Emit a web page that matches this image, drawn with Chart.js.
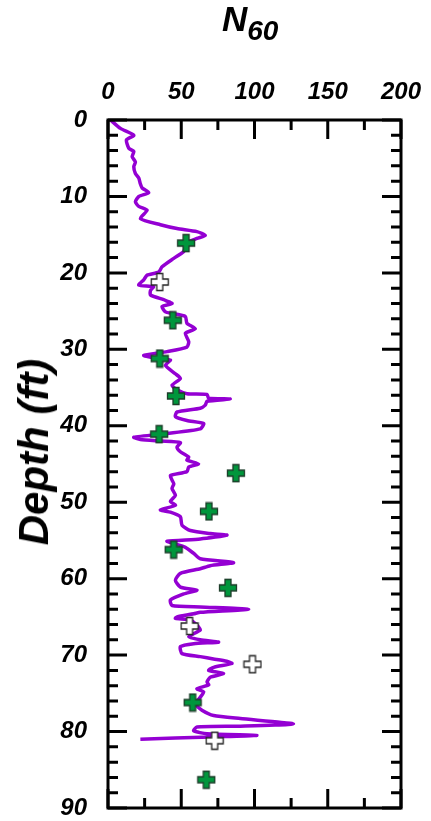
<!DOCTYPE html>
<html>
<head>
<meta charset="utf-8">
<script src="https://cdn.jsdelivr.net/npm/chart.js@4.4.0/dist/chart.umd.min.js"></script>
<style>
  html, body { margin: 0; padding: 0; background: #fff; }
  #wrap { position: relative; width: 431px; height: 821px; }
  #title {
    position: absolute; left: 222px; top: -1px;
    font-family: "Liberation Sans", Arial, sans-serif;
    font-weight: bold; font-style: italic; font-size: 35px; color: #000;
  }
  #title sub { font-size: 28px; vertical-align: -9px; }
  #ytitle {
    position: absolute; left: 34px; top: 452px;
    transform: translate(-50%, -50%) rotate(-90deg);
    white-space: nowrap;
    font-family: "Liberation Sans", Arial, sans-serif;
    font-weight: bold; font-style: italic; font-size: 42px; color: #000;
  }
</style>
</head>
<body>
<div id="wrap">
  <canvas id="chart" width="431" height="821"></canvas>
  <div id="title">N<sub>60</sub></div>
  <div id="ytitle">Depth (ft)</div>
</div>
<script>
// CPT-derived N60 profile
const cptDepth = [0.0, 1.1, 2.0, 2.6, 3.7, 4.1, 4.8, 5.5, 6.1, 7.0, 7.6, 8.3, 8.9, 9.5, 10.0, 10.7, 11.3, 11.8, 12.9, 13.7,
  14.2, 14.6, 15.1, 15.5, 16.1, 17.2, 18.1, 19.2, 19.9, 20.3, 20.9, 21.6, 21.8, 22.3, 22.9, 23.5, 23.7, 24.0, 24.4, 25.1,
  25.3, 25.7, 26.6, 27.3, 27.9, 29.0, 29.7, 30.3, 30.8, 31.2, 31.4, 32.1, 33.2, 33.8, 34.7, 35.3, 35.8, 35.9, 36.4, 36.5,
  36.8, 37.3, 37.7, 38.2, 38.8, 39.3, 39.7, 40.4, 41.0, 41.5, 41.8, 42.0, 42.2, 42.8, 43.4, 44.1, 44.5, 45.0, 45.4, 46.0,
  46.5, 47.1, 47.6, 48.2, 49.1, 49.9, 50.4, 51.0, 51.3, 51.9, 53.0, 53.7, 54.1, 54.3, 54.8, 55.1, 55.4, 55.9, 56.7, 57.4,
  57.9, 58.3, 58.7, 59.3, 60.2, 61.1, 61.5, 62.0, 62.8, 63.5, 63.7, 64.0, 64.4, 64.6, 65.0, 65.2, 65.4, 66.1, 66.7, 67.6,
  68.0, 68.3, 68.5, 68.9, 69.8, 70.2, 70.5, 70.8, 71.1, 71.6, 72.0, 72.4, 72.9, 73.5, 73.9, 74.4, 74.8, 75.5, 76.4, 77.2,
  77.9, 78.3, 79.0, 79.3, 79.4, 79.9, 80.3, 80.5, 80.7, 81.0];
const cptN60 = [1.7, 8.5, 17.6, 12.6, 14.2, 17.6, 16.5, 18.7, 17.6, 18.7, 21, 22, 23.3, 27.8, 21, 18.7, 21, 26.7, 22.1, 35.8,
  47.1, 60.7, 66.4, 60.7, 53.9, 51.7, 44.9, 36.9, 34.6, 26.7, 24.4, 21, 31, 29, 29, 38, 40.3, 43.7, 36.9, 39.2,
  43.7, 52.8, 53.9, 59.6, 52.8, 55.1, 53.9, 40.3, 24.4, 34.6, 42.6, 39.2, 46, 49.4, 43.7, 47.1, 53.9, 67.6, 68.7, 83.4,
  67.6, 66.4, 63, 47.1, 46, 53.9, 65.3, 63, 40.3, 17.6, 22.1, 35.8, 49.4, 47.1, 49.4, 55.1, 53.9, 61.8, 55.1, 53.9,
  42.6, 43.7, 44.9, 43.7, 46, 42.6, 46, 35.8, 42.6, 49.4, 50.5, 56.2, 69.8, 81.2, 63, 40.3, 44.9, 52.8, 58.5, 63,
  85.7, 69.8, 63, 49.4, 46, 49.4, 60.7, 51.7, 42.6, 43.7, 63, 96, 63, 58.5, 47.1, 46, 56.2, 60.7, 63, 55.1,
  63, 75.5, 58.5, 49.4, 50.5, 63, 72, 81, 84.6, 72.1, 68.7, 78.9, 69.8, 67.6, 68.7, 60.7, 65.3, 63, 59.6, 64.1,
  72.1, 90.3, 126.6, 90.3, 60.7, 58.5, 67.6, 101.6, 69.8, 22.1];

// SPT N60 (green and white markers)
const sptGreenDepth = [16.1, 26.2, 31.2, 36.1, 41.1, 46.2, 51.2, 56.2, 61.2, 76.2, 86.3];
const sptGreenN60 = [53.3, 44.2, 35.3, 46.4, 34.9, 87.3, 68.9, 44.8, 81.9, 57.8, 67.1];
const sptWhiteDepth = [21.2, 66.2, 71.2, 81.2];
const sptWhiteN60 = [35.3, 55.7, 98.6, 72.8];

// axis ticks
const xTicks = [0, 50, 100, 150, 200];
const xMinorStep = 25;
const yTicks = [0, 10, 20, 30, 40, 50, 60, 70, 80, 90];
const yMinorStep = 2;

const FONT = '"Liberation Sans", Arial, sans-serif';

function plusIcon(fill, stroke) {
  const c = document.createElement('canvas');
  c.width = 20; c.height = 20;
  const g = c.getContext('2d');
  const m = 10, a = 8.5, w = 3;
  g.beginPath();
  g.moveTo(m - w, m - a); g.lineTo(m + w, m - a); g.lineTo(m + w, m - w);
  g.lineTo(m + a, m - w); g.lineTo(m + a, m + w); g.lineTo(m + w, m + w);
  g.lineTo(m + w, m + a); g.lineTo(m - w, m + a); g.lineTo(m - w, m + w);
  g.lineTo(m - a, m + w); g.lineTo(m - a, m - w); g.lineTo(m - w, m - w);
  g.closePath();
  g.fillStyle = fill; g.fill();
  g.lineWidth = 1.3; g.strokeStyle = stroke; g.stroke();
  return c;
}

const toPts = (xs, ys) => xs.map((v, i) => ({ x: v, y: ys[i] }));

const frameTicks = {
  id: 'frameTicks',
  afterDraw(chart) {
    const { ctx, chartArea: { left, right, top, bottom }, scales: { x, y } } = chart;
    ctx.save();
    ctx.strokeStyle = '#000';
    ctx.lineWidth = 3;
    for (let v = x.min; v <= x.max; v += xMinorStep) {
      const px = x.getPixelForValue(v);
      const len = xTicks.includes(v) ? 19 : 10;
      ctx.beginPath();
      ctx.moveTo(px, top); ctx.lineTo(px, top + len);
      ctx.moveTo(px, bottom); ctx.lineTo(px, bottom - len);
      ctx.stroke();
    }
    for (let v = y.min; v <= y.max; v += yMinorStep) {
      const py = y.getPixelForValue(v);
      const len = yTicks.includes(v) ? 19 : 10;
      ctx.beginPath();
      ctx.moveTo(left, py); ctx.lineTo(left + len, py);
      ctx.moveTo(right, py); ctx.lineTo(right - len, py);
      ctx.stroke();
    }
    ctx.strokeRect(left, top, right - left, bottom - top);
    ctx.restore();
  }
};

new Chart(document.getElementById('chart'), {
  type: 'scatter',
  data: {
    datasets: [
      {
        label: 'SPT',
        data: toPts(sptGreenN60, sptGreenDepth),
        pointStyle: plusIcon('#00963c', '#1d3d2a'),
        order: 1
      },
      {
        label: 'SPT (other)',
        data: toPts(sptWhiteN60, sptWhiteDepth),
        pointStyle: plusIcon('#ffffff', '#222222'),
        order: 1
      },
      {
        label: 'CPT',
        data: toPts(cptN60, cptDepth),
        showLine: true,
        borderColor: '#9400d3',
        borderWidth: 3.5,
        pointRadius: 0,
        tension: 0.2,
        order: 3
      }
    ]
  },
  options: {
    responsive: false,
    animation: false,
    layout: { padding: { left: 0, right: 30, top: 0, bottom: 13 } },
    plugins: { legend: { display: false }, tooltip: { enabled: false } },
    scales: {
      x: {
        type: 'linear', position: 'top', min: 0, max: 200,
        grid: { display: false },
        border: { display: false },
        ticks: {
          stepSize: 50, padding: 5, color: '#000',
          font: { family: FONT, size: 24, weight: 'bold', style: 'italic' }
        },
        afterFit(scale) {
          scale.height = 120;
          scale.paddingLeft = 0; scale.paddingRight = 0;
        }
      },
      y: {
        type: 'linear', reverse: true, min: 0, max: 90,
        grid: { display: false },
        border: { display: false },
        ticks: {
          stepSize: 10, padding: 13, color: '#000',
          font: { family: FONT, size: 24, weight: 'bold', style: 'italic' }
        },
        afterFit(scale) {
          scale.width = 108;
          scale.paddingTop = 0; scale.paddingBottom = 0;
        }
      }
    }
  },
  plugins: [frameTicks]
});
</script>
</body>
</html>
